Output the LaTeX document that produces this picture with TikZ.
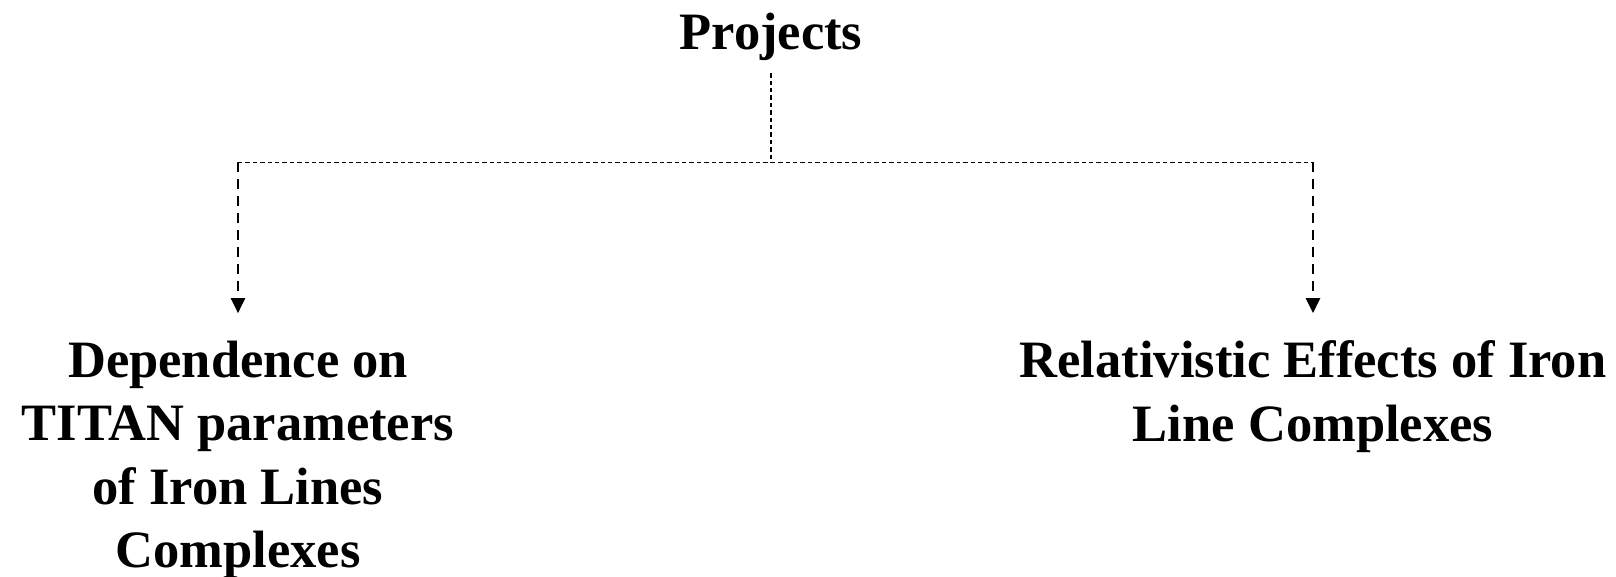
\documentclass[tikz,border=0pt]{standalone}
\usepackage{fontspec}
\setmainfont{Liberation Serif}
\usetikzlibrary{arrows.meta}
\begin{document}
\begin{tikzpicture}[
  title/.style={font=\bfseries\fontsize{26.25}{31.75}\selectfont, inner sep=5.8pt},
  project/.style={font=\bfseries\fontsize{26.25}{31.75}\selectfont, align=center, inner sep=13.5pt, anchor=north},
  feed/.style={line width=0.6pt, dash pattern=on 2.2pt off 1.5pt},
  branch/.style={line width=1.2pt, dash pattern=on 5pt off 3.5pt, -{Triangle[length=7.5pt,width=7pt]}}]
\useasboundingbox (0,0) rectangle (808pt,288.5pt);
\node[title, anchor=base] at (385.5pt,263.5pt) (P) {Projects};
\node[shape=coordinate] at ([yshift=-44.5pt]P.south) (J) {};
\node[shape=coordinate] at ([xshift=-266.5pt]J) (L) {};
\node[shape=coordinate] at ([xshift=271pt]J) (R) {};
\node[project] at ([yshift=-75.5pt]L) (D) {Dependence on\\TITAN parameters\\of Iron Lines\\Complexes};
\node[project] at ([yshift=-75.5pt]R) (E) {Relativistic Effects of Iron\\Line Complexes};
\draw[feed] (P.south) -- (J);
\draw[feed] (L) -- (R);
\draw[branch] (L) -- (D.north);
\draw[branch] (R) -- (E.north);
\end{tikzpicture}
\end{document}
